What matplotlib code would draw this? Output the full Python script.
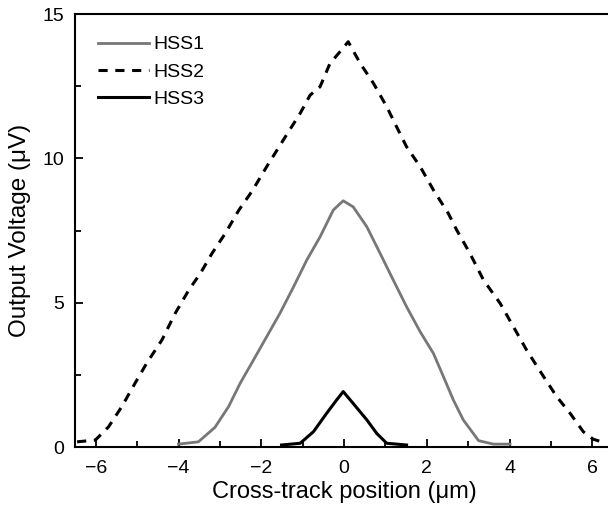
import matplotlib
matplotlib.use("Agg")
import matplotlib.pyplot as plt
from matplotlib.ticker import MultipleLocator

plt.rcParams['font.family'] = ['Liberation Sans', 'DejaVu Sans']

# HSS1 - gray solid
x_hss1 = [-4.0, -3.52, -3.12, -2.79, -2.51, -2.19, -1.87, -1.55, -1.22, -0.90, -0.58, -0.26, -0.02,
          0.22, 0.55, 0.87, 1.19, 1.51, 1.84, 2.16, 2.40, 2.64, 2.88, 3.25, 3.61, 4.01]
y_hss1 = [0.10, 0.18, 0.68, 1.40, 2.21, 3.01, 3.82, 4.63, 5.55, 6.48, 7.28, 8.21, 8.53,
          8.32, 7.63, 6.71, 5.78, 4.86, 3.99, 3.24, 2.44, 1.63, 0.94, 0.22, 0.10, 0.10]

# HSS2 - black dashed
x_hss2 = [-6.45, -6.01, -5.69, -5.37, -5.05, -4.77, -4.40, -4.08, -3.75, -3.47, -3.19, -2.87, -2.54,
          -2.22, -1.87, -1.47, -1.06, -0.82, -0.58, -0.34, -0.10, 0.10, 0.39, 0.71, 1.03, 1.27,
          1.51, 1.84, 2.16, 2.52, 2.72, 3.04, 3.37, 3.77, 4.09, 4.41, 4.82, 5.14, 5.46, 5.78,
          6.02, 6.34]
y_hss2 = [0.18, 0.24, 0.70, 1.40, 2.21, 2.90, 3.71, 4.63, 5.44, 6.02, 6.71, 7.40, 8.21,
          8.87, 9.71, 10.63, 11.56, 12.19, 12.48, 13.29, 13.69, 14.04, 13.29, 12.60, 11.79, 11.09,
          10.40, 9.71, 8.90, 8.09, 7.52, 6.71, 5.78, 4.98, 4.17, 3.36, 2.44, 1.74, 1.17, 0.53,
          0.27, 0.13]

# HSS3 - black solid
x_hss3 = [-1.51, -1.06, -0.74, -0.42, -0.18, -0.02, 0.22, 0.55, 0.79, 1.03, 1.51]
y_hss3 = [0.07, 0.13, 0.53, 1.17, 1.63, 1.92, 1.51, 0.94, 0.47, 0.13, 0.07]

fig = plt.figure(figsize=(6.08, 5.11), dpi=100)
ax = fig.add_axes([0.1234, 0.1252, 0.885, 0.8474])

ax.plot(x_hss1, y_hss1, color='#777777', lw=2, label='HSS1')
ax.plot(x_hss2, y_hss2, color='black', lw=2.2, ls=(0, (3, 2.5)), label='HSS2')
ax.plot(x_hss3, y_hss3, color='black', lw=2.2, label='HSS3')

ax.set_xlim(-6.5, 6.5)
ax.set_ylim(0, 15)
ax.xaxis.set_major_locator(MultipleLocator(2))
ax.xaxis.set_minor_locator(MultipleLocator(1))
ax.yaxis.set_major_locator(MultipleLocator(5))
ax.yaxis.set_minor_locator(MultipleLocator(2.5))
ax.tick_params(which='both', direction='in', top=False, right=False, labelsize=14, width=1.3)
ax.tick_params(which='major', length=6)
ax.tick_params(axis='x', pad=9)
ax.tick_params(axis='y', pad=8)
ax.tick_params(which='minor', length=4)
for s in ax.spines.values():
    s.set_linewidth(1.5)

ax.set_xlabel('Cross-track position (\u03bcm)', fontsize=17, labelpad=3)
ax.set_ylabel('Output Voltage (\u03bcV)', fontsize=17.5, labelpad=8)

ax.legend(loc='upper left', frameon=False, fontsize=14, handlelength=2.65,
          handletextpad=0.2, labelspacing=0.5, bbox_to_anchor=(0.01, 0.99))

fig.savefig('out.png', dpi=100)
